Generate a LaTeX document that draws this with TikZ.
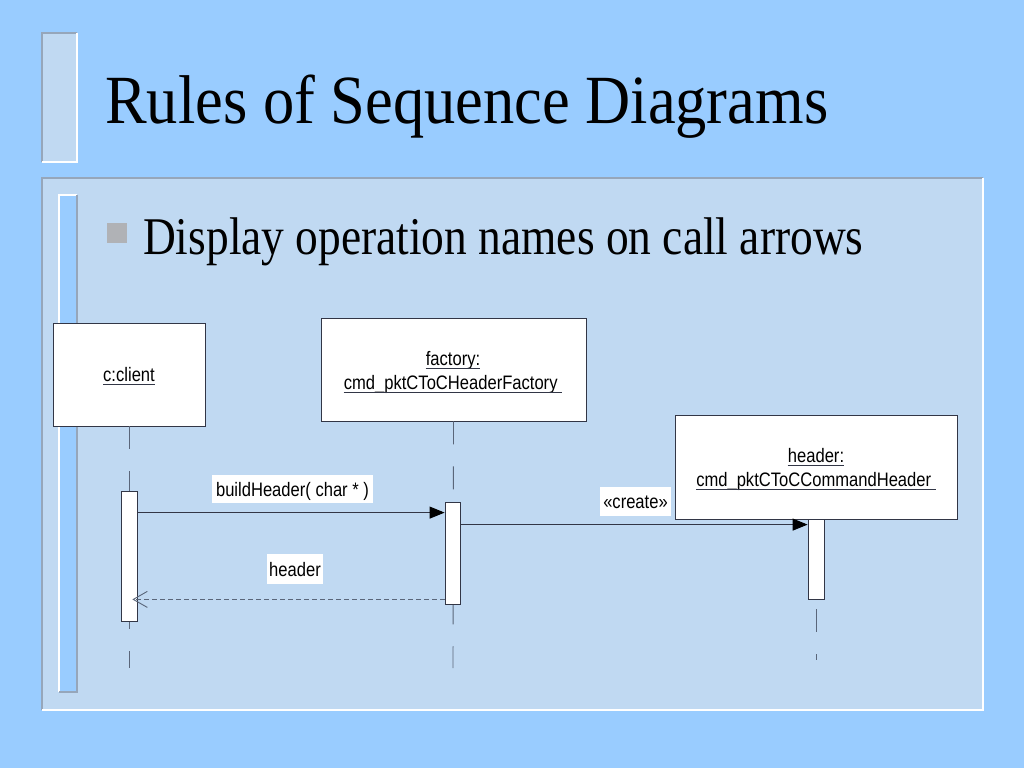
\documentclass[tikz,border=0pt]{standalone}
\usepackage{fontspec}
\setmainfont{Liberation Serif}
\newfontfamily\diagfont{Liberation Sans}
\usetikzlibrary{arrows.meta,calc}
\definecolor{bgblue}{RGB}{153,204,255}
\definecolor{panelc}{RGB}{192,217,242}
\definecolor{edgegray}{RGB}{150,166,186}
\definecolor{linec}{RGB}{50,54,70}
\definecolor{lifec}{RGB}{90,102,122}
\definecolor{bulletc}{RGB}{176,178,182}
\newcommand{\dtext}[1]{\scalebox{0.85}[1]{#1}}
\begin{document}
\begin{tikzpicture}[x=1pt,y=-1pt,
  objbox/.style={draw=linec, fill=white, line width=0.9pt, inner sep=0},
  actbox/.style={draw=linec, fill=white, line width=0.8pt, inner sep=0, minimum width=16pt},
  objtext/.style={font=\diagfont\fontsize{19.5}{22}\selectfont, inner sep=0, anchor=base},
  msglbl/.style={font=\diagfont\fontsize{19.5}{22}\selectfont, fill=white, inner sep=0, text height=15pt, text depth=1pt},
  underl/.style={draw=linec, line width=0.7pt},
  life/.style={draw=lifec, line width=0.9pt, dash pattern=on 23pt off 22pt},
  msg/.style={draw=linec, line width=0.9pt, -{Triangle[length=15pt,width=12pt,color=black]}},
  ret/.style={draw=lifec, line width=0.9pt, dash pattern=on 5pt off 3pt, -{Straight Barb[length=14pt,width=16pt,line width=0.9pt]}}
]
\useasboundingbox (0,0) rectangle (1024,768);
\fill[bgblue] (0,0) rectangle (1024,768);

% title bar
\fill[panelc] (42,33) rectangle (77,162);
\draw[edgegray, line width=1.5pt] (42,162) -- (42,33) -- (77,33);
\draw[white, line width=1.5pt] (77,33) -- (77,162) -- (42,162);
\node[anchor=base west, inner sep=0, font=\fontsize{69}{80}\selectfont] (title) at (105,123) {\scalebox{0.905}[1]{Rules of Sequence Diagrams}};

% panel
\fill[panelc] (42,178) rectangle (983,710);
\draw[edgegray, line width=1.5pt] (42,710) -- (42,178) -- (983,178);
\draw[white, line width=1.5pt] (983,178) -- (983,710) -- (42,710);
\fill[bgblue] (59,195) rectangle (77,692);
\draw[white, line width=1.5pt] (59,692) -- (59,195) -- (77,195);
\draw[edgegray, line width=1.5pt] (77,195) -- (77,692) -- (59,692);

% bullet
\fill[bulletc] (107,223) rectangle (127,243);
\node[anchor=base west, inner sep=0, font=\fontsize{53}{60}\selectfont] (bullet) at (143,254) {\scalebox{0.857}[1]{Display operation names on call arrows}};

% object boxes
\node[objbox, minimum width=152pt, minimum height=103pt] (client) at (129,374.5) {};
\node[objbox, minimum width=265pt, minimum height=103pt] (factory) at (453.5,369.5) {};
\node[objbox, minimum width=282pt, minimum height=104pt] (header) at (816,467) {};

% lifeline ends
\coordinate (clientend) at (129,668);
\coordinate (factoryend) at (453,668);
\coordinate (headerend) at (816,660);

% lifelines
\draw[life] (client.south) -- (clientend);
\draw[life] (factory.south) -- (factoryend);
\draw[life] (header.south) -- (headerend);

% activations
\node[actbox, minimum height=130pt] (actc) at (129,556) {};
\node[actbox, minimum width=15pt, minimum height=102pt] (actf) at (452.5,553) {};
\node[actbox, minimum height=80pt] (acth) at (816,559) {};

% object texts
\node[objtext] (ct) at (129,381) {\dtext{c:client}};
\draw[underl] ([yshift=-3pt]ct.base west) -- ([yshift=-3pt]ct.base east);
\node[objtext] (ft1) at (453,365) {\dtext{factory:}};
\draw[underl] ([yshift=-3pt]ft1.base west) -- ([yshift=-3pt]ft1.base east);
\node[objtext] (ft2) at (453,389) {\dtext{cmd\_pktCToCHeaderFactory\ }};
\draw[underl] ([yshift=-3pt]ft2.base west) -- ([yshift=-3pt]ft2.base east);
\node[objtext] (ht1) at (816,462) {\dtext{header:}};
\draw[underl] ([yshift=-3pt]ht1.base west) -- ([yshift=-3pt]ht1.base east);
\node[objtext] (ht2) at (816,486) {\dtext{cmd\_pktCToCCommandHeader\ }};
\draw[underl] ([yshift=-3pt]ht2.base west) -- ([yshift=-3pt]ht2.base east);

% messages
\draw[msg] ($(actc.north east)+(0,22)$) -- ($(actf.north west)+(0,11)$);
\draw[msg] ($(actf.north east)+(0,23)$) -- ($(acth.north west)+(0,6)$);
\draw[ret] ($(actf.south west)+(0,-5)$) -- ($(actc.south east)+(-5,-22)$);

% message labels
\node[msglbl, minimum width=161pt, minimum height=28pt] (l1) at (292.5,489) {\dtext{buildHeader( char * )}};
\node[msglbl, minimum width=71pt, minimum height=29pt] (l2) at (635.5,501.5) {\dtext{«create»}};
\node[msglbl, minimum width=56pt, minimum height=30pt] (l3) at (295,569) {\dtext{header}};
\end{tikzpicture}
\end{document}
